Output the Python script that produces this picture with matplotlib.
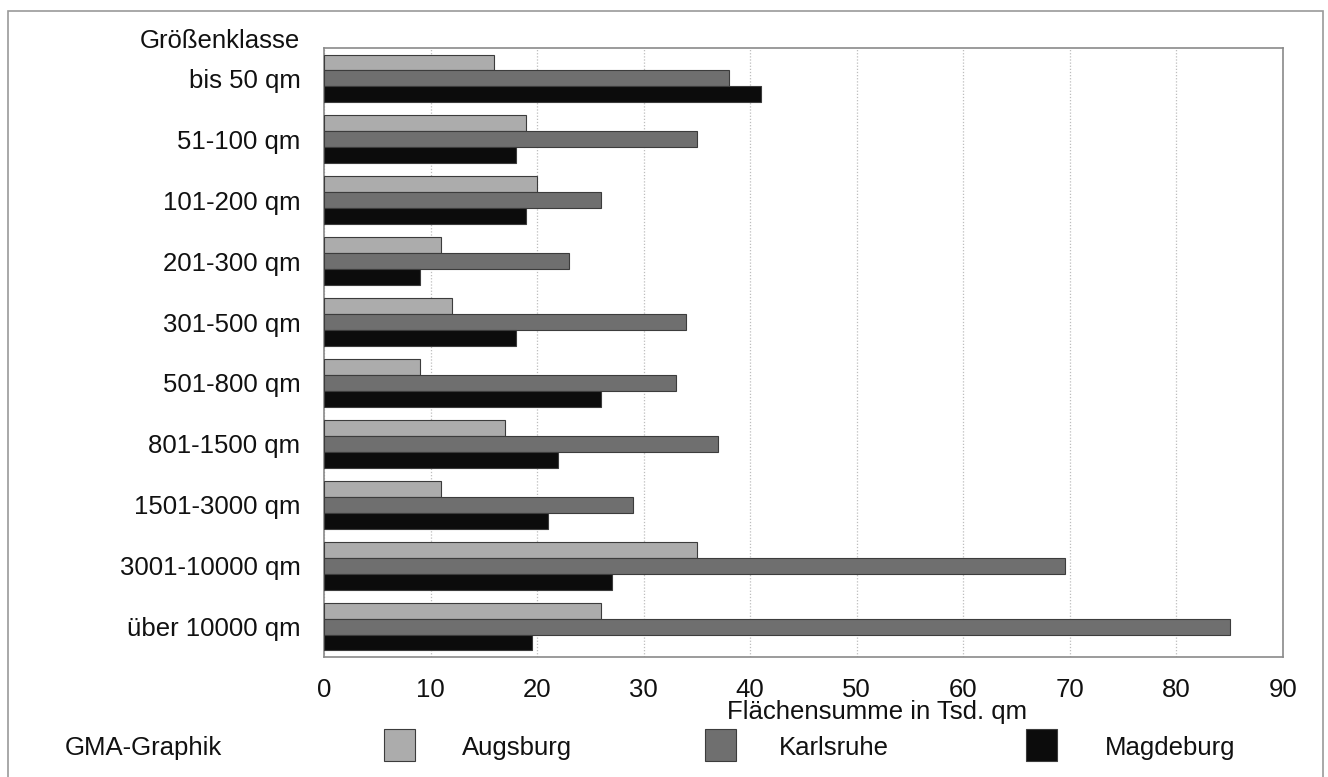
import matplotlib
matplotlib.use("Agg")
import matplotlib.pyplot as plt
import numpy as np
from matplotlib.patches import Rectangle

plt.rcParams['font.family'] = ['Liberation Sans', 'DejaVu Sans']

categories = ["bis 50 qm", "51-100 qm", "101-200 qm", "201-300 qm", "301-500 qm",
              "501-800 qm", "801-1500 qm", "1501-3000 qm", "3001-10000 qm", "über 10000 qm"]
series_names = ["Augsburg", "Karlsruhe", "Magdeburg"]
augsburg = [16, 19, 20, 11, 12, 9, 17, 11, 35, 26]
karlsruhe = [38, 35, 26, 23, 34, 33, 37, 29, 69.5, 85]
magdeburg = [41, 18, 19, 9, 18, 26, 22, 21, 27, 19.5]
x_ticks = [0, 10, 20, 30, 40, 50, 60, 70, 80, 90]

colors = ["#acacac", "#6f6f6f", "#0c0c0c"]
W, H = 1328, 777
FS = 18.5

fig = plt.figure(figsize=(W / 100, H / 100), dpi=100)

def fx(px):
    return px / W

def fy(py):
    return 1 - py / H

# outer frame
fig.patches.append(Rectangle((fx(8), fy(790)), fx(1323) - fx(8), fy(11) - fy(790),
                             transform=fig.transFigure, fill=False,
                             edgecolor="#9a9a9a", linewidth=1.2))

ax = fig.add_axes([fx(324), fy(657), fx(1283) - fx(324), fy(48) - fy(657)])

y = np.arange(len(categories))
bh = 0.262
for k, vals in enumerate([augsburg, karlsruhe, magdeburg]):
    ax.barh(y + (k - 1) * bh, vals, height=bh, color=colors[k],
            edgecolor="#3c3c3c", linewidth=0.8, zorder=3)

ax.set_xlim(0, 90)
ax.set_ylim(len(categories) - 0.5, -0.5)
ax.set_xticks(x_ticks)
ax.set_xticklabels([str(t) for t in x_ticks], fontsize=FS, color="#111111")
ax.set_yticks(y)
ax.set_yticklabels(categories, fontsize=FS, color="#111111")
ax.tick_params(axis='both', length=0)
ax.tick_params(axis='y', pad=17)
ax.tick_params(axis='x', pad=15)
ax.xaxis.grid(True, linestyle=(0, (1, 1.5)), color="#bdbdbd", linewidth=0.9, zorder=0)
ax.set_axisbelow(True)
for s in ax.spines.values():
    s.set_color("#8a8a8a")
    s.set_linewidth(1.2)

fig.text(fx(300), fy(48), "Größenklasse", ha="right", va="baseline",
         fontsize=FS, color="#111111")
fig.text(fx(727), fy(719), "Flächensumme in Tsd. qm", ha="left", va="baseline",
         fontsize=FS, color="#111111")

# legend row
fig.text(fx(65), fy(755), "GMA-Graphik", ha="left", va="baseline",
         fontsize=FS, color="#111111")
patch_x = [384, 705, 1026]
text_x = [462, 779, 1105]
for k, name in enumerate(series_names):
    fig.patches.append(Rectangle((fx(patch_x[k]), fy(761)), fx(31), fy(729) - fy(761),
                                 transform=fig.transFigure, facecolor=colors[k],
                                 edgecolor="#3c3c3c", linewidth=0.8))
    fig.text(fx(text_x[k]), fy(755), name, ha="left", va="baseline",
             fontsize=FS, color="#111111")

fig.savefig("out.png", dpi=100)
